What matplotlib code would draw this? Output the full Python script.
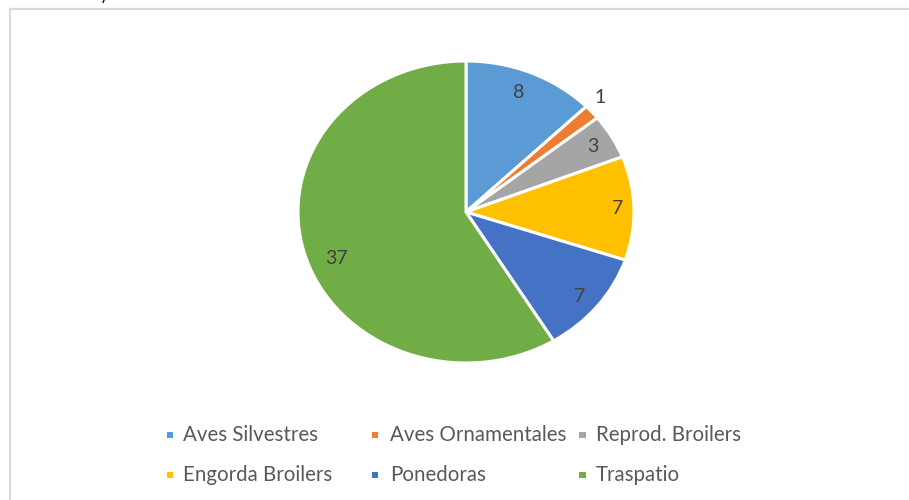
import numpy as np
import matplotlib
matplotlib.use("Agg")
import matplotlib.pyplot as plt
from matplotlib.patches import Rectangle
from matplotlib.lines import Line2D

categories = ["Aves Silvestres", "Aves Ornamentales", "Reprod. Broilers",
              "Engorda Broilers", "Ponedoras", "Traspatio"]
values = [8, 1, 3, 7, 7, 37]
colors = ["#5B9BD5", "#ED7D31", "#A5A5A5", "#FFC000", "#4472C4", "#70AD47"]
label_radius = [0.85, 1.10, 0.87, 0.90, 0.88, 0.83]
label_angle_shift = [-1, -2, 0, 0, 1, -6]

W, H = 909, 500
plt.rcParams['font.family'] = ['Lato', 'DejaVu Sans']
fig = plt.figure(figsize=(W / 100, H / 100), dpi=100)

def fx(px):
    return px / W

def fy(py):
    return 1 - py / H

# chart frame (only left and top edges visible in crop)
fig.add_artist(Line2D([fx(9.5), fx(9.5)], [0, fy(9)], transform=fig.transFigure,
                      color="#D9D9D9", linewidth=1.6, solid_capstyle="projecting"))
fig.add_artist(Line2D([fx(9.5), 1], [fy(9), fy(9)], transform=fig.transFigure,
                      color="#D9D9D9", linewidth=1.6, solid_capstyle="projecting"))
# cut-off title descender at top
fig.text(fx(100), 1.0, "y", fontsize=12, color="#000000", va="baseline", ha="left")

# pie area (slightly stretched horizontally as in reference)
left, right, top, bottom = 298, 634, 61, 363
ax = fig.add_axes([fx(left), fy(bottom), (right - left) / W, (bottom - top) / H])
wedges, _ = ax.pie(values, colors=colors, startangle=90, counterclock=False,
                   radius=1.0, wedgeprops=dict(edgecolor="white", linewidth=2.2))
ax.set_aspect("auto")
ax.set_xlim(-1, 1)
ax.set_ylim(-1, 1)
ax.axis("off")

total = float(sum(values))
cum = 0.0
for v, r, sh in zip(values, label_radius, label_angle_shift):
    mid = (cum + v / 2) / total * 360.0 + sh
    cum += v
    ang = np.deg2rad(90 - mid)
    ax.text(r * np.cos(ang), r * np.sin(ang), f"{v}", ha="center", va="center",
            fontsize=14, color="#404040")

# legend (manual, Excel-like grid)
col_marker = [170, 375, 582.5]
col_text = [183, 390, 596]
row_y = [435, 475]
for i, (cat, c) in enumerate(zip(categories, colors)):
    row, col = divmod(i, 3)
    s = 6.5
    fig.patches.append(Rectangle((fx(col_marker[col] - s / 2), fy(row_y[row] + s / 2)),
                                 s / W, s / H, transform=fig.transFigure,
                                 facecolor=c, edgecolor="none"))
    fig.text(fx(col_text[col]), fy(row_y[row]), cat, fontsize=14.8, color="#595959",
             ha="left", va="center")

fig.savefig("out.png", dpi=100)
